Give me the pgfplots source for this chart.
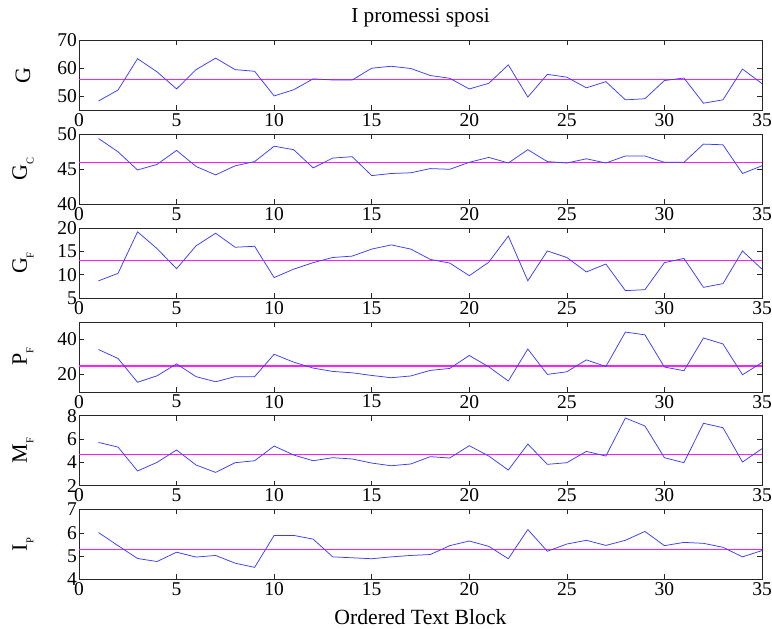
\documentclass[border=0pt]{standalone}
\usepackage{fontspec}
\setmainfont{Liberation Serif}
\usepackage{pgfplots}
\pgfplotsset{compat=1.18}
\definecolor{ml}{RGB}{60,60,255}
\definecolor{mg}{RGB}{255,30,255}
\pgfplotsset{panel/.style={
  scale only axis, width=683pt, height=70pt, xmin=0, xmax=35, xtick={0,5,...,35},
  anchor=south west,
  tick label style={font=\fontsize{19.5}{22}\selectfont},
  /pgf/number format/assume math mode=true,
  axis line style={line width=0.7pt, black!85},
  every tick/.style={black!85, line width=0.6pt},
  major tick length=5pt,
  xticklabel style={inner sep=1pt, yshift=-2pt},
  yticklabel style={inner sep=2pt},
  ylabel style={at={(axis description cs:-0.082,0.5)}, anchor=center, font=\fontsize{22}{26}\selectfont},
  data/.style={ml, line width=0.75pt},
  mean/.style={mg, line width=1.4pt},
}}
\newcommand{\sub}[1]{\raisebox{-0.3em}{\fontsize{10.5}{11}\selectfont #1}}
\begin{document}
\begin{tikzpicture}
\useasboundingbox (0,0) rectangle (772pt,629pt);
% Panel 1: G
\begin{axis}[panel, at={(79pt,518.5pt)}, ymin=45, ymax=70, ytick={50,60,70}, ylabel={G},
  title={I promessi sposi}, title style={at={(axis description cs:0.5,1)}, anchor=base, yshift=12.4pt, font=\fontsize{21.3}{25}\selectfont}]
\addplot[mean] coordinates {(0,56.0)(35,56.0)};
\addplot[data] coordinates {(1,48.4)(2,52.3)(3,63.5)(4,58.8)(5,52.7)(6,59.6)(7,63.7)(8,59.6)(9,59.0)(10,50.2)(11,52.4)(12,56.3)(13,55.9)(14,55.9)(15,60.1)(16,60.8)(17,60.0)(18,57.5)(19,56.5)(20,52.7)(21,54.7)(22,61.3)(23,49.8)(24,57.9)(25,56.9)(26,53.1)(27,55.3)(28,48.8)(29,49.2)(30,55.7)(31,56.6)(32,47.6)(33,48.8)(34,59.8)(35,54.6)};
\end{axis}
% Panel 2: G_C
\begin{axis}[panel, at={(79pt,424.7pt)}, ymin=40, ymax=50, ytick={40,45,50}, ylabel={G\sub{C}}]
\addplot[mean] coordinates {(0,46.0)(35,46.0)};
\addplot[data] coordinates {(1,49.4)(2,47.5)(3,44.9)(4,45.7)(5,47.7)(6,45.4)(7,44.2)(8,45.5)(9,46.1)(10,48.3)(11,47.8)(12,45.2)(13,46.6)(14,46.8)(15,44.1)(16,44.4)(17,44.5)(18,45.1)(19,45.0)(20,46.0)(21,46.7)(22,45.9)(23,47.8)(24,46.1)(25,45.9)(26,46.5)(27,45.9)(28,46.9)(29,46.9)(30,46.0)(31,46.0)(32,48.6)(33,48.5)(34,44.4)(35,45.5)};
\end{axis}
% Panel 3: G_F
\begin{axis}[panel, at={(79pt,330.9pt)}, ymin=5, ymax=20, ytick={5,10,15,20}, ylabel={G\sub{F}}]
\addplot[mean] coordinates {(0,13.0)(35,13.0)};
\addplot[data] coordinates {(1,8.7)(2,10.3)(3,19.2)(4,15.6)(5,11.3)(6,16.2)(7,18.9)(8,15.9)(9,16.1)(10,9.4)(11,11.2)(12,12.6)(13,13.7)(14,14.0)(15,15.5)(16,16.4)(17,15.5)(18,13.3)(19,12.5)(20,9.8)(21,12.7)(22,18.3)(23,8.7)(24,15.1)(25,13.7)(26,10.6)(27,12.3)(28,6.6)(29,6.8)(30,12.6)(31,13.5)(32,7.3)(33,8.1)(34,15.1)(35,11.2)};
\end{axis}
% Panel 4: P_F
\begin{axis}[panel, at={(79pt,237.1pt)}, ymin=10, ymax=50, ytick={20,40}, ylabel={P\sub{F}}]
\addplot[mean] coordinates {(0,24.9)(35,24.9)};
\addplot[data] coordinates {(1,34.2)(2,29.1)(3,15.5)(4,19.2)(5,26.0)(6,18.7)(7,15.8)(8,18.7)(9,18.7)(10,31.5)(11,27.0)(12,23.6)(13,21.7)(14,20.9)(15,19.4)(16,18.1)(17,19.1)(18,22.3)(19,23.4)(20,30.8)(21,24.3)(22,16.2)(23,34.5)(24,20.0)(25,21.5)(26,28.3)(27,24.5)(28,44.2)(29,42.6)(30,24.2)(31,22.1)(32,40.8)(33,37.4)(34,19.8)(35,26.8)};
\end{axis}
% Panel 5: M_F
\begin{axis}[panel, at={(79pt,143.3pt)}, ymin=2, ymax=8, ytick={2,4,6,8}, ylabel={M\sub{F}}]
\addplot[mean] coordinates {(0,4.66)(35,4.66)};
\addplot[data] coordinates {(1,5.71)(2,5.31)(3,3.26)(4,4.00)(5,5.06)(6,3.77)(7,3.14)(8,3.97)(9,4.14)(10,5.40)(11,4.63)(12,4.14)(13,4.40)(14,4.29)(15,3.94)(16,3.71)(17,3.86)(18,4.49)(19,4.37)(20,5.43)(21,4.54)(22,3.34)(23,5.57)(24,3.83)(25,3.97)(26,4.94)(27,4.54)(28,7.80)(29,7.12)(30,4.40)(31,3.97)(32,7.35)(33,6.97)(34,4.03)(35,5.17)};
\end{axis}
% Panel 6: I_P
\begin{axis}[panel, at={(79pt,49.5pt)}, ymin=4, ymax=7, ytick={4,5,6,7}, ylabel={I\sub{P}},
  xlabel={Ordered Text Block}, xlabel style={at={(axis description cs:0.5,0)}, anchor=base, yshift=-45.5pt, font=\fontsize{21.7}{25}\selectfont}]
\addplot[mean] coordinates {(0,5.29)(35,5.29)};
\addplot[data] coordinates {(1,6.01)(2,5.45)(3,4.90)(4,4.77)(5,5.17)(6,4.96)(7,5.03)(8,4.70)(9,4.52)(10,5.89)(11,5.89)(12,5.73)(13,4.97)(14,4.93)(15,4.89)(16,4.97)(17,5.03)(18,5.07)(19,5.45)(20,5.65)(21,5.42)(22,4.89)(23,6.14)(24,5.21)(25,5.52)(26,5.68)(27,5.46)(28,5.68)(29,6.06)(30,5.45)(31,5.59)(32,5.55)(33,5.38)(34,4.97)(35,5.24)};
\end{axis}
\end{tikzpicture}
\end{document}
